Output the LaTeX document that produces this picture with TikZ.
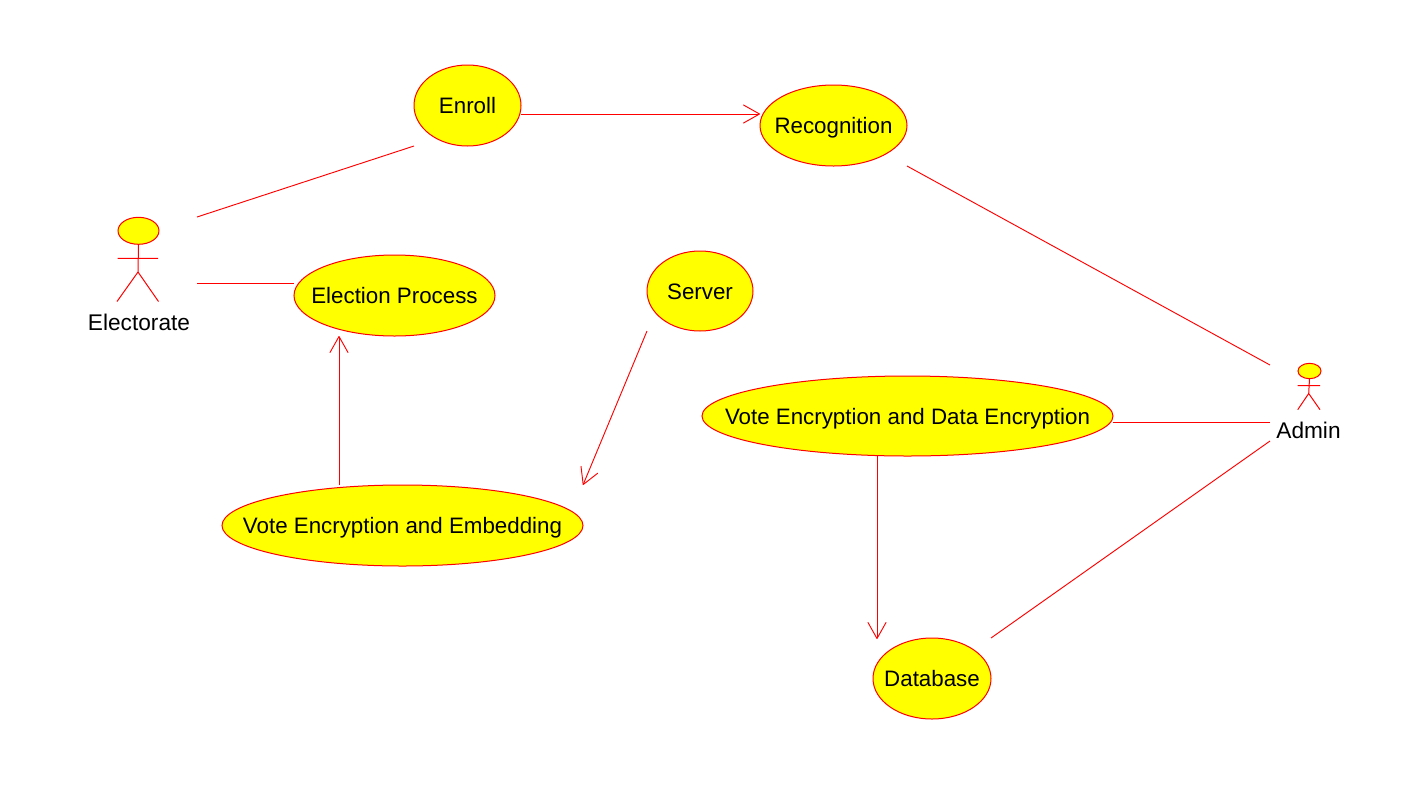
\documentclass[tikz,border=0pt]{standalone}
\usepackage{fontspec}
\setmainfont{Liberation Sans}
\usetikzlibrary{shapes.geometric,arrows.meta}
\definecolor{ucyellow}{RGB}{255,255,0}
\definecolor{ucred}{RGB}{255,0,0}
\newcommand{\uctext}[1]{\makebox[0pt]{\raisebox{-0.36em}[0pt][0pt]{#1}}}
\tikzset{
  usecase/.style={ellipse,draw=ucred,fill=ucyellow,line width=0.75pt,inner sep=0pt,outer sep=0pt,
    font=\fontsize{16.75}{20}\selectfont,text=black},
  wire/.style={draw=ucred,line width=0.7pt},
  flow/.style={wire,-{Straight Barb[length=12pt,width=13.5pt,line width=0.7pt,round=false]}},
  limb/.style={draw=ucred,line width=0.75pt},
  head/.style={ellipse,draw=ucred,fill=ucyellow,line width=0.75pt,inner sep=0pt,outer sep=0pt},
  actorlabel/.style={font=\fontsize{17}{20}\selectfont,text=black,inner sep=0pt}
}
\begin{document}
\begin{tikzpicture}[x=0.75pt,y=-0.75pt]
\useasboundingbox (0,0) rectangle (1411,801);
\fill[white] (0,0) rectangle (1411,801);
% use cases
\node[usecase,minimum width=80.25pt,minimum height=60.75pt] (enroll) at (467.5,105.5) {\uctext{Enroll}};
\node[usecase,minimum width=110.25pt,minimum height=60.75pt] (recog) at (833.5,125.5) {\uctext{Recognition}};
\node[usecase,minimum width=150.75pt,minimum height=60.75pt] (election) at (394.5,295.5) {\uctext{Election Process}};
\node[usecase,minimum width=79.5pt,minimum height=60pt] (server) at (700,291) {\uctext{Server}};
\node[usecase,minimum width=270.75pt,minimum height=60.75pt] (voteemb) at (402.5,525.5) {\uctext{Vote Encryption and Embedding}};
\node[usecase,minimum width=308.25pt,minimum height=60pt] (votedata) at (907.5,416) {\uctext{Vote Encryption and Data Encryption}};
\node[usecase,minimum width=88.5pt,minimum height=60.75pt] (database) at (932,678.5) {\uctext{Database}};
% Electorate actor
\node[head,minimum width=30.75pt,minimum height=20.25pt] (ehead) at (138.5,230.8) {};
\coordinate (ehip) at (138,272);
\coordinate (earmL) at (117.5,258.3);
\coordinate (earmR) at (158,258.3);
\coordinate (elegL) at (117,301.5);
\coordinate (elegR) at (158.5,301.5);
\draw[limb] (ehead.south) -- (ehip) (earmL) -- (earmR) (elegL) -- (ehip) -- (elegR);
\node[actorlabel] (electorate) at (139,322) {Electorate};
\coordinate (eportA) at (197,217);
\coordinate (eportB) at (197,283);
% Admin actor
\node[head,minimum width=17.25pt,minimum height=11.5pt] (ahead) at (1309.5,371) {};
\coordinate (ahip) at (1308.7,393.5);
\coordinate (aarmL) at (1297.7,385.5);
\coordinate (aarmR) at (1320,385.5);
\coordinate (alegL) at (1297.7,409.7);
\coordinate (alegR) at (1320,409.7);
\draw[limb] (ahead.south) -- (ahip) (aarmL) -- (aarmR) (alegL) -- (ahip) -- (alegR);
\node[actorlabel] (admin) at (1308.5,430) {Admin};
\coordinate (aportA) at (1270,365);
\coordinate (aportB) at (1270,422);
\coordinate (aportC) at (1270,441);
% connectors
\draw[wire] (eportA) -- (enroll.west |- enroll.south);
\draw[wire] (eportB) -- (election.west |- eportB);
\draw[flow] (enroll.east |- 0,114) -- (recog.west |- 0,114);
\draw[flow] (339,485) -- (339,336);
\draw[flow] (server.west |- server.south) -- (voteemb.east |- voteemb.north);
\draw[wire] (recog.east |- recog.south) -- (aportA);
\draw[wire] (votedata.east |- aportB) -- (aportB);
\draw[wire] (aportC) -- (database.east |- database.north);
\draw[flow] (877,456) -- (877,639);
\end{tikzpicture}
\end{document}
